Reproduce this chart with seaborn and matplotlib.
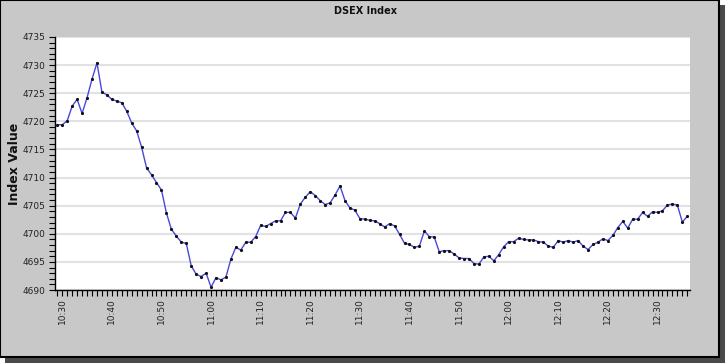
import matplotlib
matplotlib.use("Agg")
import matplotlib.pyplot as plt
from matplotlib.patches import Rectangle
from matplotlib.ticker import MultipleLocator, FixedLocator
import seaborn as sns
import pandas as pd
import numpy as np

# ---- data (one reading per minute, starting 10:29) ----
start_time = "10:29"
index_values = [
    4719.4, 4719.4, 4720.1, 4722.7, 4723.9, 4721.4, 4724.2, 4727.5, 4730.4, 4725.2,
    4724.7, 4723.9, 4723.6, 4723.3, 4721.8, 4719.7, 4718.3, 4715.4, 4711.7, 4710.5,
    4709.1, 4707.8, 4703.7, 4700.8, 4699.6, 4698.5, 4698.3, 4694.3, 4692.8, 4692.4,
    4693.0, 4690.5, 4692.2, 4691.8, 4692.3, 4695.5, 4697.6, 4697.1, 4698.5, 4698.5,
    4699.5, 4701.5, 4701.3, 4701.8, 4702.3, 4702.3, 4703.8, 4703.8, 4702.8, 4705.3,
    4706.5, 4707.5, 4706.8, 4705.9, 4705.2, 4705.5, 4706.9, 4708.5, 4705.9, 4704.6,
    4704.2, 4702.7, 4702.6, 4702.4, 4702.3, 4701.8, 4701.2, 4701.8, 4701.4, 4699.9,
    4698.3, 4698.1, 4697.6, 4697.8, 4700.5, 4699.5, 4699.4, 4696.8, 4697.0, 4697.0,
    4696.4, 4695.7, 4695.6, 4695.6, 4694.7, 4694.6, 4695.9, 4696.0, 4695.2, 4696.3,
    4697.7, 4698.6, 4698.6, 4699.2, 4699.0, 4698.9, 4698.9, 4698.6, 4698.5, 4697.8,
    4697.6, 4698.8, 4698.5, 4698.8, 4698.5, 4698.8, 4697.8, 4697.2, 4698.1, 4698.5,
    4699.1, 4698.8, 4699.7, 4701.1, 4702.2, 4701.0, 4702.6, 4702.6, 4703.8, 4703.1,
    4703.9, 4703.8, 4704.1, 4705.1, 4705.3, 4705.1, 4702.1, 4703.1,
]
tick_labels = ["10:30", "10:40", "10:50", "11:00", "11:10", "11:20", "11:30",
               "11:40", "11:50", "12:00", "12:10", "12:20", "12:30"]
title = "DSEX Index"
y_label = "Index Value"

def to_min(s):
    h, m = s.split(":")
    return int(h) * 60 + int(m)

t0 = to_min(start_time)
df = pd.DataFrame({
    "minute": [t0 + i for i in range(len(index_values))],
    "value": index_values,
})
tick_pos = [to_min(s) for s in tick_labels]

# ---- figure ----
sns.set_style("white")
fig = plt.figure(figsize=(7.25, 3.63), dpi=100)
fig.patch.set_facecolor("#c8c8c8")

# frame / shadow
fig.patches.append(Rectangle((0, 0), 1, 1, transform=fig.transFigure,
                             facecolor="#ffffff", edgecolor="none", zorder=-3))
fig.patches.append(Rectangle((5/725, 0), 720/725, 358/363, transform=fig.transFigure,
                             facecolor="#4a4a4a", edgecolor="none", zorder=-2))
fig.patches.append(Rectangle((0, 6/363), 719/725, 357/363, transform=fig.transFigure,
                             facecolor="#c8c8c8", edgecolor="#000000", linewidth=1.5, zorder=-1))

ax = fig.add_axes([55/725, (363-290)/363, (690-55)/725, (290-37)/363])
ax.set_facecolor("white")

sns.lineplot(data=df, x="minute", y="value", ax=ax, color="#4848e0",
             linewidth=1.0, marker="o", markersize=1.5,
             markerfacecolor="#111111", markeredgecolor="#111111")

ax.set_xlim(t0 - 0.46, t0 + len(index_values) - 1 + 0.55)
ax.set_ylim(4690, 4735)

ax.yaxis.set_major_locator(MultipleLocator(5))
ax.yaxis.set_minor_locator(MultipleLocator(1))
ax.xaxis.set_major_locator(FixedLocator(tick_pos))
ax.xaxis.set_minor_locator(MultipleLocator(1))
ax.set_xticklabels(tick_labels, rotation=90)

ax.grid(axis="y", which="major", color="#e2e2e2", linewidth=1.5)
ax.set_axisbelow(True)

for side in ["top", "right"]:
    ax.spines[side].set_visible(False)
for side in ["left", "bottom"]:
    ax.spines[side].set_color("#000000")
    ax.spines[side].set_linewidth(1.0)

ax.tick_params(axis="both", which="both", direction="out", colors="#000000",
               labelsize=6.5, width=0.8, labelcolor="#222222",
               bottom=True, left=True, top=False, right=False)
ax.tick_params(axis="both", which="both", length=4)
ax.tick_params(axis="y", which="major", pad=3)
ax.tick_params(axis="x", which="major", pad=2)

ax.set_xlabel("")
ax.set_ylabel(y_label, fontsize=9, fontweight="bold", family="DejaVu Sans",
              color="#111111")
ax.yaxis.set_label_coords((21 - 55) / 635, 0.5)
fig.text(365/725, 1 - 11/363, title, ha="center", va="center",
         fontsize=7, fontweight="bold", family="DejaVu Sans", color="#111111")

fig.savefig("out.png", dpi=100, facecolor=fig.get_facecolor())
